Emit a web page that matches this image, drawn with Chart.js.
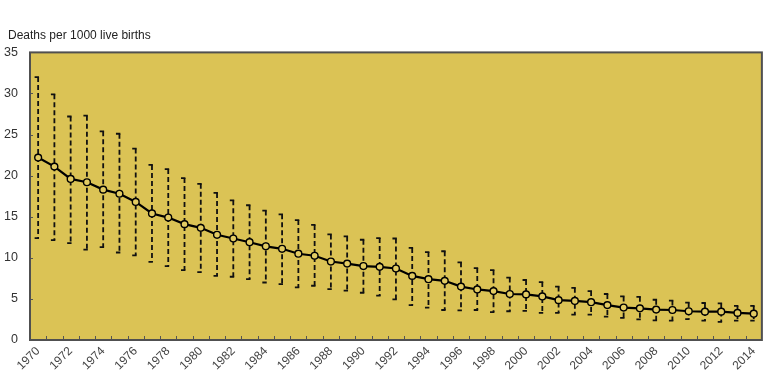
<!DOCTYPE html>
<html><head><meta charset="utf-8">
<script src="https://cdn.jsdelivr.net/npm/chart.js@4"></script>
<style>html,body{margin:0;padding:0;background:#fff}#wrap{width:768px;height:391px}</style>
</head><body><div id="wrap"><canvas id="c" width="768" height="391"></canvas></div>
<script>
const years = ['1970','1971','1972','1973','1974','1975','1976','1977','1978','1979',
  '1980','1981','1982','1983','1984','1985','1986','1987','1988','1989',
  '1990','1991','1992','1993','1994','1995','1996','1997','1998','1999',
  '2000','2001','2002','2003','2004','2005','2006','2007','2008','2009',
  '2010','2011','2012','2013','2014'];
const meanRate = [22.2,21.1,19.6,19.2,18.3,17.8,16.8,15.4,14.9,
  14.1,13.65,12.8,12.35,11.9,11.4,11.1,10.5,10.25,
  9.55,9.3,9.0,8.9,8.7,7.8,7.4,7.2,6.5,
  6.15,5.95,5.6,5.55,5.3,4.85,4.75,4.6,4.25,
  3.95,3.85,3.7,3.65,3.5,3.45,3.45,3.3,3.2];
const upperBound = [32.0,29.9,27.2,27.3,25.4,25.1,23.3,21.3,20.8,
  19.7,19.0,17.9,17.0,16.4,15.75,15.3,14.6,14.0,
  12.85,12.6,12.2,12.4,12.35,11.2,10.7,10.8,9.45,
  8.75,8.5,7.6,7.3,7.05,6.5,6.35,5.95,5.6,
  5.3,5.25,4.9,4.8,4.55,4.5,4.45,4.15,4.15];
const lowerBound = [12.4,12.15,11.8,11.0,11.3,10.65,10.3,9.5,9.0,
  8.5,8.25,7.8,7.7,7.4,7.0,6.8,6.4,6.6,
  6.2,6.0,5.75,5.4,4.95,4.25,3.95,3.65,3.6,
  3.65,3.4,3.5,3.55,3.3,3.3,3.1,3.1,2.85,
  2.7,2.5,2.4,2.35,2.55,2.35,2.2,2.35,2.35];
const yTicks = [0,5,10,15,20,25,30,35];
const yTitle = 'Deaths per 1000 live births';

const plotBg = '#DBC355';
const FONT = '"Liberation Sans", Arial, sans-serif';

const errPlugin = {
  id: 'errbars',
  afterLayout(chart) {
    if (chart.titleBlock) { chart.titleBlock.left = 8; }
  },
  beforeDraw(chart) {
    const {ctx, chartArea: a} = chart;
    ctx.save();
    ctx.fillStyle = plotBg;
    ctx.fillRect(a.left, a.top, a.right - a.left, a.bottom - a.top);
    ctx.restore();
  },
  beforeDatasetsDraw(chart) {
    const {ctx, scales: {x, y}} = chart;
    ctx.save();
    ctx.strokeStyle = '#111';
    ctx.lineWidth = 1.8;
    years.forEach((yr, i) => {
      const px = x.getPixelForValue(i);
      const top = y.getPixelForValue(upperBound[i]);
      const bot = y.getPixelForValue(lowerBound[i]);
      ctx.setLineDash([5, 3]);
      ctx.beginPath(); ctx.moveTo(px, top); ctx.lineTo(px, bot); ctx.stroke();
      ctx.setLineDash([]);
      ctx.beginPath();
      ctx.moveTo(px - 3.5, top); ctx.lineTo(px + 0.9, top);
      ctx.moveTo(px - 3.5, bot); ctx.lineTo(px + 0.9, bot);
      ctx.stroke();
    });
    ctx.restore();
  },
  afterDraw(chart) {
    const {ctx, chartArea: a, scales: {x, y}} = chart;
    ctx.save();
    ctx.strokeStyle = '#555';
    ctx.lineWidth = 1;
    const half = (x.getPixelForValue(1) - x.getPixelForValue(0)) / 2;
    ctx.beginPath();
    for (let i = 1; i < years.length; i++) {
      const px = Math.round(x.getPixelForValue(i) - half) + 0.5;
      ctx.moveTo(px, a.bottom); ctx.lineTo(px, a.bottom - 4);
    }
    yTicks.forEach(v => {
      const py = Math.round(y.getPixelForValue(v)) + 0.5;
      ctx.moveTo(a.left, py); ctx.lineTo(a.left + 3, py);
    });
    ctx.stroke();
    ctx.lineWidth = 2;
    ctx.strokeStyle = '#505050';
    ctx.strokeRect(a.left, a.top, a.right - a.left, a.bottom - a.top);
    ctx.restore();
  }
};

new Chart(document.getElementById('c'), {
  type: 'line',
  data: {
    labels: years,
    datasets: [{
      label: 'Mean',
      data: meanRate,
      borderColor: '#000',
      borderWidth: 2.2,
      pointRadius: 3.4,
      pointBackgroundColor: '#E2CB62',
      pointBorderColor: '#000',
      pointBorderWidth: 1.4,
      tension: 0
    }]
  },
  options: {
    responsive: false,
    animation: false,
    devicePixelRatio: 1,
    layout: { padding: { left: 0, right: 6, top: 0, bottom: 0 } },
    plugins: {
      legend: { display: false },
      tooltip: { enabled: false },
      title: {
        display: true,
        text: yTitle,
        align: 'start',
        color: '#222',
        font: { family: FONT, size: 12, weight: 'normal', lineHeight: 1.2 },
        padding: { top: 28, bottom: 10 }
      }
    },
    scales: {
      x: {
        type: 'category',
        offset: true,
        grid: { display: false, drawTicks: false, offset: true },
        border: { display: false },
        afterFit(s) { s.height = 51; },
        ticks: {
          autoSkip: false,
          maxRotation: 45,
          minRotation: 45,
          padding: 4,
          color: '#444',
          font: { family: FONT, size: 12 },
          callback: (v, i) => (i % 2 === 0 ? years[i] : '')
        }
      },
      y: {
        min: 0,
        max: 35,
        afterFit(s) { s.width = 30; },
        grid: { display: false, drawTicks: false },
        border: { display: false },
        afterBuildTicks(s) { s.ticks = yTicks.map(v => ({ value: v })); },
        ticks: {
          padding: 12,
          color: '#333',
          font: { family: FONT, size: 12.5 }
        }
      }
    }
  },
  plugins: [errPlugin]
});
</script>
</body></html>
